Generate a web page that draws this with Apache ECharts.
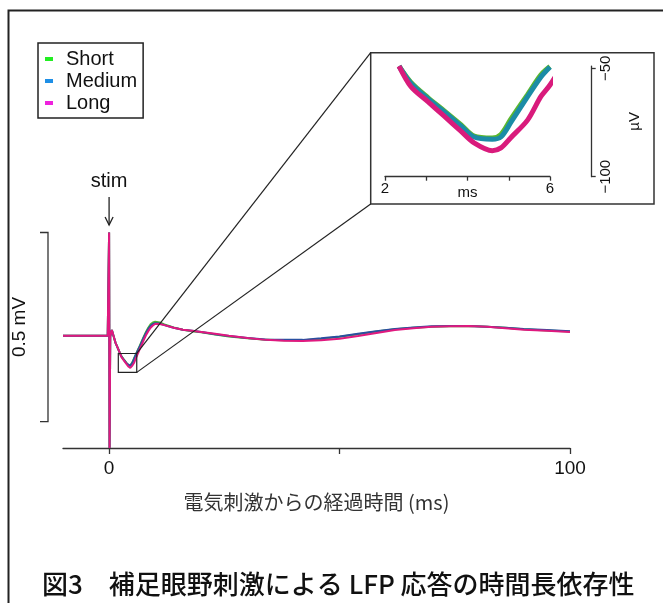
<!DOCTYPE html>
<html><head><meta charset="utf-8">
<script src="https://cdn.jsdelivr.net/npm/echarts@6/dist/echarts.min.js"></script>
<style>html,body{margin:0;padding:0;background:#fff}#c{width:663px;height:603px}</style>
</head><body><div id="c"></div>
<script>
// time (ms) after electrical stimulation
const timeMs = [-10, -6, -2, -0.3, 0, 0.1, 0.25, 0.6, 1.0, 1.4, 1.8, 2.1, 2.34, 2.63, 3.04, 3.43, 3.84, 4.16, 4.6, 4.81, 5.05, 5.46, 5.78, 6.0, 6.27, 6.6, 7.0, 7.5, 8.0, 8.5, 9.0, 9.5, 10, 11, 12, 14, 16, 18, 20, 23, 26, 30, 34, 38, 42, 46, 50, 54, 58, 62, 66, 70, 74, 78, 82, 86, 90, 95, 100];
// LFP (µV)
const shortVals  = [-3, -3, -3, -3, 270, -300, -5, 12, -5, -22, -33, -42, -49, -56.5, -63.5, -69.5, -76, -81.3, -82.2, -80.5, -73.5, -62, -53, -49.2, -40, -31, -20, -6, 7, 18, 27, 32, 34, 32, 27, 19, 13, 9, 6, 0, -5, -10, -14, -15, -15, -12, -6, 1, 8, 14, 18, 21, 22, 23, 21, 18, 14, 11, 8];
const mediumVals = [-3, -3, -3, -3, 270, -300, -5, 12, -5, -22, -33, -42, -49, -57, -64, -70, -76.6, -81.7, -82.7, -81.7, -75, -63, -54, -49.4, -41, -33, -22, -8, 4, 15, 23, 28, 30, 29, 25, 18, 13, 10, 7, 1, -4, -9, -13, -14, -14, -10, -5, 2, 9, 15, 19, 22, 23, 23, 21, 18, 15, 12, 9];
const longVals   = [-3, -3, -3, -3, 270, -300, -5, 12, -5, -22, -33, -42, -49, -58.5, -65.4, -72, -79, -84.4, -88, -86.7, -82, -73.8, -63, -57.7, -49.4, -40, -29, -15, -2, 9, 18, 24, 28, 28, 25, 18, 13, 10, 7, 2, -3, -9, -14, -16, -17, -15, -11, -4, 4, 12, 17, 21, 22, 23, 21, 17, 13, 10, 7];

const seriesNames = ['Short', 'Medium', 'Long'];
const seriesVals = [shortVals, mediumVals, longVals];
const legendColors = ['#22ee22', '#1e8fe6', '#ee22dd'];
const mainColors = ['#4cb830', '#2a4fa0', '#e0197f'];
const insetColors = ['#5cb82e', '#1b8ca6', '#d91b7c'];

const xTickValues = [0, 50, 100];
const xLabelValues = [0, 100];
const insetXLabelValues = [2, 6];
const insetYTickValues = [-100, -50];
const zoomWindow = {t0: 2, t1: 6, v0: -100, v1: -50};
const scaleBar = {top: 270, bottom: -230, label: '0.5 mV'};

const FONT = "'Liberation Sans', Arial, sans-serif";
const CJK = "'Noto Sans CJK JP', sans-serif";

const chart = echarts.init(document.getElementById('c'), null, {renderer: 'canvas'});

const mainSeries = seriesNames.map((n, k) => ({
  name: n, type: 'line', xAxisIndex: 0, yAxisIndex: 0,
  data: timeMs.map((t, i) => [t, seriesVals[k][i]]),
  showSymbol: false, smooth: false, lineStyle: {width: 2, color: mainColors[k]},
  itemStyle: {color: mainColors[k]}, z: 3 + k, silent: true
}));
const insetSeries = seriesNames.map((n, k) => ({
  name: n, type: 'line', xAxisIndex: 1, yAxisIndex: 1,
  data: timeMs.map((t, i) => [t, seriesVals[k][i]])
    .filter(d => d[0] >= zoomWindow.t0 && d[0] <= 6.5 && d[1] <= -49),
  showSymbol: false, smooth: 0.3, clip: false,
  lineStyle: {width: 5, color: insetColors[k]},
  itemStyle: {color: insetColors[k]}, z: 3 + k, silent: true
}));

const option = {
  animation: false,
  backgroundColor: '#fff',
  title: {
    text: '図3　補足眼野刺激による LFP 応答の時間長依存性',
    left: 37, top: 566,
    textStyle: {fontSize: 26, fontWeight: 500, fontFamily: CJK, color: '#111'}
  },
  legend: {
    left: 38, top: 43, orient: 'vertical', padding: [6, 6, 5, 7], itemGap: 2,
    itemWidth: 8, itemHeight: 4, icon: 'rect',
    borderColor: '#222', borderWidth: 1.5, borderRadius: 0,
    textStyle: {fontSize: 20, color: '#111', fontFamily: FONT, padding: [0, 0, 0, 8]},
    data: seriesNames.map((n, k) => ({name: n, itemStyle: {color: legendColors[k]}}))
  },
  grid: [
    {left: 63, width: 507, top: 232.5, height: 215.5},
    {left: 385, width: 165, top: 66.1, height: 110.6}
  ],
  xAxis: [
    {
      type: 'value', gridIndex: 0, min: -10, max: 100,
      axisLine: {show: true, onZero: false, lineStyle: {color: '#333', width: 1.3}},
      axisTick: {show: true, length: 6, customValues: xTickValues, lineStyle: {color: '#333', width: 1.3}},
      axisLabel: {show: true, customValues: xLabelValues, fontSize: 19, color: '#111', fontFamily: FONT, margin: 11},
      splitLine: {show: false},
      name: '電気刺激からの経過時間 (ms)', nameLocation: 'middle', nameGap: 44, nameMoveOverlap: false,
      nameTextStyle: {fontSize: 20, color: '#333', fontFamily: CJK}
    },
    {
      type: 'value', gridIndex: 1, min: 2, max: 6, interval: 1,
      axisLine: {show: true, onZero: false, lineStyle: {color: '#333', width: 1.3}},
      axisTick: {show: true, length: 4, lineStyle: {color: '#333', width: 1.3}},
      axisLabel: {show: true, customValues: insetXLabelValues, fontSize: 15, color: '#111', fontFamily: FONT, margin: 5},
      splitLine: {show: false},
      name: 'ms', nameLocation: 'middle', nameGap: 9, nameMoveOverlap: false,
      nameTextStyle: {fontSize: 15, color: '#111', fontFamily: FONT}
    }
  ],
  yAxis: [
    {type: 'value', gridIndex: 0, min: -300, max: 270, show: false},
    {
      type: 'value', gridIndex: 1, min: -100, max: -49, position: 'right', offset: 41.7,
      axisLine: {show: true, onZero: false, lineStyle: {color: '#333', width: 1.3}},
      axisTick: {show: true, length: 4, customValues: insetYTickValues, lineStyle: {color: '#333', width: 1.3}},
      axisLabel: {show: true, customValues: insetYTickValues, rotate: 90, fontSize: 15, color: '#111', fontFamily: FONT, margin: 7,
        formatter: v => (v < 0 ? '\u2212' : '') + Math.abs(v)},
      splitLine: {show: false},
      name: 'µV', nameLocation: 'middle', nameRotate: 90, nameGap: 36, nameMoveOverlap: false,
      nameTextStyle: {fontSize: 15, color: '#111', fontFamily: FONT}
    }
  ],
  series: mainSeries.concat(insetSeries)
};
chart.setOption(option);

function drawAnnotations() {
  const p = (x, y) => chart.convertToPixel({gridIndex: 0}, [x, y]);
  const a = p(zoomWindow.t0, zoomWindow.v1);
  const b = p(zoomWindow.t1, zoomWindow.v0);
  const tr = p(zoomWindow.t1, zoomWindow.v1);
  const insetBox = {x: 370.7, y: 52.7, w: 283.3, h: 151.3};
  const stimX = p(0, 0)[0];
  const sbTop = p(0, scaleBar.top)[1];
  const sbBot = p(0, scaleBar.bottom)[1];
  const sbX = 48;
  const stroke = '#222';
  chart.setOption({
    graphic: [
      {type: 'rect', silent: true, shape: {x: 8.5, y: 10.5, width: 720, height: 700},
        style: {fill: 'none', stroke: '#222', lineWidth: 2}, z: 1},
      {type: 'rect', silent: true, shape: {x: a[0], y: a[1], width: b[0] - a[0], height: b[1] - a[1]},
        style: {fill: 'none', stroke: stroke, lineWidth: 1.2}, z: 10},
      {type: 'rect', silent: true, shape: {x: insetBox.x, y: insetBox.y, width: insetBox.w, height: insetBox.h},
        style: {fill: 'none', stroke: '#333', lineWidth: 1.5}, z: 10},
      {type: 'line', silent: true, shape: {x1: tr[0], y1: tr[1], x2: insetBox.x, y2: insetBox.y},
        style: {stroke: stroke, lineWidth: 1.2}, z: 10},
      {type: 'line', silent: true, shape: {x1: b[0], y1: b[1], x2: insetBox.x, y2: insetBox.y + insetBox.h},
        style: {stroke: stroke, lineWidth: 1.2}, z: 10},
      {type: 'text', silent: true, x: stimX, y: 181,
        style: {text: 'stim', fontSize: 20, fontFamily: FONT, fill: '#111', align: 'center', verticalAlign: 'middle'}, z: 10},
      {type: 'line', silent: true, shape: {x1: stimX, y1: 197, x2: stimX, y2: 225},
        style: {stroke: '#222', lineWidth: 1.3}, z: 10},
      {type: 'polyline', silent: true, shape: {points: [[stimX - 4, 217], [stimX, 225], [stimX + 4, 217]]},
        style: {stroke: '#222', lineWidth: 1.3, fill: 'none'}, z: 10},
      {type: 'polyline', silent: true, shape: {points: [[sbX - 8, sbTop], [sbX, sbTop], [sbX, sbBot], [sbX - 8, sbBot]]},
        style: {stroke: '#333', lineWidth: 1.3, fill: 'none'}, z: 10},
      {type: 'text', silent: true, x: 20, y: (sbTop + sbBot) / 2, rotation: Math.PI / 2,
        style: {text: scaleBar.label, fontSize: 19, fontFamily: FONT, fill: '#111', align: 'center', verticalAlign: 'middle'}, z: 10}
    ]
  });
}
drawAnnotations();
</script>
</body></html>
